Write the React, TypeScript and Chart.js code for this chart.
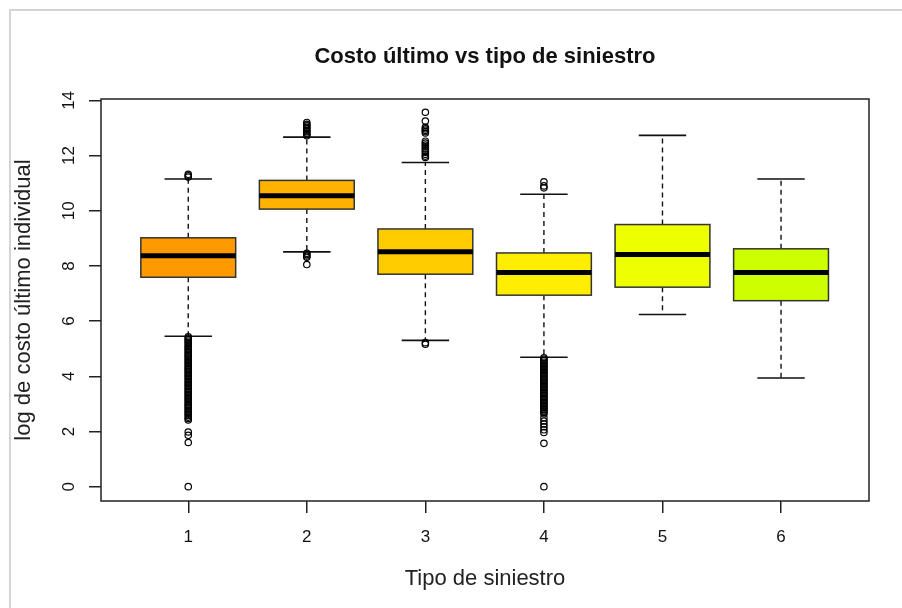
import { useEffect, useRef } from "react";
import { Chart, registerables } from "chart.js";

Chart.register(...registerables);

const chartTitle = "Costo último vs tipo de siniestro";
const categories = [1, 2, 3, 4, 5, 6];
const tickLabels = ["1", "2", "3", "4", "5", "6"];
const yTicks = [0, 2, 4, 6, 8, 10, 12, 14];
const boxColors = ["#FF9900", "#FFB300", "#FFCC00", "#FFEE00", "#EEFF00", "#CCFF00"];

const q1 = [7.59, 10.06, 7.7, 6.94, 7.23, 6.74];
const medians = [8.37, 10.54, 8.51, 7.76, 8.41, 7.76];
const q3 = [9.02, 11.1, 9.34, 8.47, 9.5, 8.62];
const whiskerLow = [5.45, 8.51, 5.3, 4.69, 6.24, 3.94];
const whiskerHigh = [11.15, 12.67, 11.75, 10.6, 12.73, 11.15];

const outliers1 = [
  11.22, 11.27, 11.32, 5.43, 5.38, 5.33, 5.28, 5.23, 5.18, 5.12, 5.07, 5.02, 4.97, 4.92, 4.86, 4.81,
  4.76, 4.71, 4.66, 4.6, 4.55, 4.5, 4.45, 4.4, 4.34, 4.29, 4.24, 4.19, 4.14, 4.08, 4.03, 3.98, 3.93,
  3.88, 3.82, 3.77, 3.72, 3.67, 3.62, 3.56, 3.51, 3.46, 3.41, 3.36, 3.3, 3.25, 3.2, 3.15, 3.1, 3.04,
  2.99, 2.94, 2.89, 2.84, 2.78, 2.73, 2.68, 2.63, 2.58, 2.52, 2.47, 2.42, 1.98, 1.86, 1.6, 0,
];
const outliers2 = [12.72, 12.77, 12.82, 12.87, 12.92, 12.97, 13.02, 13.08, 13.13, 13.2, 8.46, 8.41, 8.36, 8.31, 8.05];
const outliers3 = [
  11.93, 11.98, 12.05, 12.12, 12.18, 12.25, 12.32, 12.38, 12.45, 12.52, 12.82, 12.87, 12.92, 12.97,
  13.02, 13.25, 13.57, 5.22, 5.16,
];
const outliers4 = [
  10.83, 10.9, 11.05, 4.67, 4.62, 4.57, 4.51, 4.46, 4.41, 4.36, 4.31, 4.25, 4.2, 4.15, 4.1, 4.05, 3.99,
  3.94, 3.89, 3.84, 3.79, 3.73, 3.68, 3.63, 3.58, 3.53, 3.47, 3.42, 3.37, 3.32, 3.27, 3.21, 3.16, 3.11,
  3.06, 3.01, 2.95, 2.9, 2.85, 2.8, 2.75, 2.69, 2.64, 2.5, 2.38, 2.27, 2.17, 2.06, 1.96, 1.57, 0,
];
const outliers5: number[] = [];
const outliers6: number[] = [];
const outlierLists = [outliers1, outliers2, outliers3, outliers4, outliers5, outliers6];

const FONT = "'Liberation Sans', Arial, Helvetica, sans-serif";

const boxPlugin = {
  id: "rBoxes",
  beforeDraw(chart: any) {
    const { ctx, width, height } = chart;
    ctx.save();
    ctx.fillStyle = "#ffffff";
    ctx.fillRect(0, 0, width, height);
    ctx.strokeStyle = "#d4d4d4";
    ctx.lineWidth = 2;
    ctx.beginPath();
    ctx.moveTo(10, height);
    ctx.lineTo(10, 10);
    ctx.lineTo(width, 10);
    ctx.stroke();
    ctx.restore();
  },
  beforeDatasetsDraw(chart: any) {
    const { ctx } = chart;
    const x = chart.scales.x;
    const y = chart.scales.y;
    ctx.save();
    categories.forEach((c, i) => {
      const xc = x.getPixelForValue(c);
      const half = x.getPixelForValue(c + 0.4) - xc;
      const stap = x.getPixelForValue(c + 0.2) - xc;
      const yq1 = y.getPixelForValue(q1[i]);
      const yq3 = y.getPixelForValue(q3[i]);
      const ymed = y.getPixelForValue(medians[i]);
      const ylo = y.getPixelForValue(whiskerLow[i]);
      const yhi = y.getPixelForValue(whiskerHigh[i]);
      ctx.strokeStyle = "#111";
      ctx.lineWidth = 1.4;
      ctx.setLineDash([5, 4]);
      ctx.beginPath();
      ctx.moveTo(xc, yq3);
      ctx.lineTo(xc, yhi);
      ctx.moveTo(xc, yq1);
      ctx.lineTo(xc, ylo);
      ctx.stroke();
      ctx.setLineDash([]);
      ctx.lineWidth = 1.6;
      ctx.beginPath();
      ctx.moveTo(xc - stap, yhi);
      ctx.lineTo(xc + stap, yhi);
      ctx.moveTo(xc - stap, ylo);
      ctx.lineTo(xc + stap, ylo);
      ctx.stroke();
      ctx.fillStyle = boxColors[i];
      ctx.fillRect(xc - half, yq3, 2 * half, yq1 - yq3);
      ctx.strokeStyle = "#333";
      ctx.lineWidth = 1.5;
      ctx.strokeRect(xc - half, yq3, 2 * half, yq1 - yq3);
      ctx.strokeStyle = "#000";
      ctx.lineWidth = 5;
      ctx.beginPath();
      ctx.moveTo(xc - half, ymed);
      ctx.lineTo(xc + half, ymed);
      ctx.stroke();
    });
    ctx.restore();
  },
  afterDraw(chart: any) {
    const { ctx, chartArea } = chart;
    ctx.save();
    ctx.strokeStyle = "#222";
    ctx.lineWidth = 1.5;
    ctx.strokeRect(chartArea.left, chartArea.top, chartArea.right - chartArea.left, chartArea.bottom - chartArea.top);
    ctx.fillStyle = "#111";
    ctx.font = `bold 22px ${FONT}`;
    ctx.textAlign = "center";
    ctx.textBaseline = "middle";
    ctx.fillText(chartTitle, (chartArea.left + chartArea.right) / 2, 57);
    ctx.restore();
  },
};

export default function App() {
  const ref = useRef<HTMLCanvasElement | null>(null);
  useEffect(() => {
    if (!ref.current) return;
    const points: { x: number; y: number }[] = [];
    outlierLists.forEach((list, i) => list.forEach((v) => points.push({ x: categories[i], y: v })));
    const chart = new Chart(ref.current, {
      type: "scatter",
      data: {
        datasets: [
          {
            data: points,
            pointStyle: "circle",
            pointRadius: 3.2,
            pointBorderWidth: 1.2,
            pointBorderColor: "#000",
            pointBackgroundColor: "rgba(0,0,0,0)",
            pointHoverRadius: 3.2,
          },
        ],
      },
      options: {
        animation: false,
        responsive: true,
        maintainAspectRatio: false,
        events: [],
        layout: { padding: { left: 0, right: 33, top: 99, bottom: 0 } },
        plugins: {
          legend: { display: false },
          tooltip: { enabled: false },
          title: { display: false },
        },
        scales: {
          x: {
            type: "linear",
            min: 0.264,
            max: 6.742,
            afterBuildTicks: (s: any) => {
              s.ticks = categories.map((v) => ({ value: v }));
            },
            afterFit: (s: any) => {
              s.height = 107;
            },
            ticks: {
              color: "#111",
              font: { family: FONT, size: 17 },
              padding: 14,
              maxRotation: 0,
              minRotation: 0,
              callback: (v: any) => tickLabels[categories.indexOf(Number(v))] ?? "",
            },
            grid: { drawOnChartArea: false, drawTicks: true, tickLength: 12, color: "#222", lineWidth: 1.5 },
            border: { display: false },
            title: {
              display: true,
              text: "Tipo de siniestro",
              color: "#222",
              font: { family: FONT, size: 22, lineHeight: 1.2 },
              padding: { top: 0, bottom: 16 },
            },
          },
          y: {
            type: "linear",
            min: -0.52,
            max: 14.05,
            afterBuildTicks: (s: any) => {
              s.ticks = yTicks.map((v) => ({ value: v }));
            },
            afterFit: (s: any) => {
              s.width = 101;
            },
            ticks: {
              color: "#111",
              font: { family: FONT, size: 17 },
              padding: 10,
              minRotation: 90,
              maxRotation: 90,
              crossAlign: "center",
            },
            grid: { drawOnChartArea: false, drawTicks: true, tickLength: 12, color: "#222", lineWidth: 1.5 },
            border: { display: false },
            title: {
              display: true,
              text: "log de costo último individual",
              color: "#222",
              font: { family: FONT, size: 22, lineHeight: 1.2 },
              padding: { top: 11, bottom: 0 },
            },
          },
        },
      },
      plugins: [boxPlugin],
    });
    return () => chart.destroy();
  }, []);
  return (
    <div style={{ position: "fixed", left: 0, top: 0, width: 902, height: 608 }}>
      <canvas ref={ref} />
    </div>
  );
}
